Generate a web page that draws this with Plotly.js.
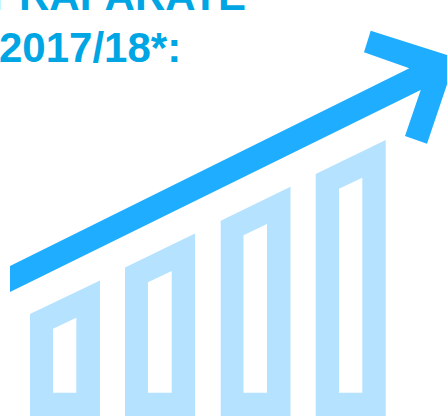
<!DOCTYPE html>
<html>
<head>
<meta charset="utf-8">
<script src="https://cdn.plot.ly/plotly-3.0.1.min.js"></script>
<style>html,body{margin:0;padding:0;background:#fff;overflow:hidden}</style>
</head>
<body>
<div id="chart" style="width:447px;height:416px"></div>
<script>
var titleLines = ["PRÄPARATE", "2017/18*:"];
// slanted bars: left / right top level, inner window top levels (axis runs downward)
var barLeft = [30, 125, 220.7, 315.7];
var barRight = [100, 195, 290.5, 385.7];
var barTopLeft = [314, 267.5, 220.7, 174];
var barTopRight = [280.5, 233.5, 186.7, 140];
var barBottom = [416, 416, 416, 416];
var holeLeft = [53, 148, 243.5, 339];
var holeRight = [76.3, 171.7, 267, 362.3];
var holeTopLeft = [328.7, 282.3, 235.3, 188.7];
var holeTopRight = [317.7, 271, 224, 177.7];
var holeBottom = [392.7, 392.7, 392.7, 392.7];
var arrowX = [10, 409.3, 364, 370.7, 456, 427, 405, 420.7, 10];
var arrowY = [266, 68.3, 52.3, 30.7, 58, 143.7, 136, 90, 292];

var barColor = "#b5e2ff", arrowColor = "#1fadff", textColor = "#00a5e3";
var traces = [];
barLeft.forEach(function (l, i) {
  traces.push({type: "scatter", mode: "lines", fill: "toself", fillcolor: barColor, line: {width: 0, color: barColor},
    x: [l, barRight[i], barRight[i], l, l],
    y: [barTopLeft[i], barTopRight[i], barBottom[i], barBottom[i], barTopLeft[i]], hoverinfo: "skip"});
  traces.push({type: "scatter", mode: "lines", fill: "toself", fillcolor: "#ffffff", line: {width: 0, color: "#ffffff"},
    x: [holeLeft[i], holeRight[i], holeRight[i], holeLeft[i], holeLeft[i]],
    y: [holeTopLeft[i], holeTopRight[i], holeBottom[i], holeBottom[i], holeTopLeft[i]], hoverinfo: "skip"});
});
traces.push({type: "scatter", mode: "lines", fill: "toself", fillcolor: arrowColor, line: {width: 0, color: arrowColor},
  x: arrowX, y: arrowY, hoverinfo: "skip"});

var axisBase = {visible: false, fixedrange: true, showgrid: false, zeroline: false};
var layout = {
  width: 447, height: 416, margin: {l: 0, r: 0, t: 0, b: 0},
  paper_bgcolor: "#ffffff", plot_bgcolor: "#ffffff", showlegend: false,
  xaxis: Object.assign({range: [0, 447]}, axisBase),
  yaxis: Object.assign({range: [416, 0]}, axisBase),
  annotations: [
    {text: titleLines[0], x: 0, y: 12, xshift: -11, yshift: -9.5},
    {text: titleLines[1], x: 0, y: 63.5, xshift: -3, yshift: -9.5}
  ].map(function (a) {
    a.text = "<b>" + a.text + "</b>";
    a.xref = "x"; a.yref = "y"; a.xanchor = "left"; a.yanchor = "bottom"; a.showarrow = false;
    a.font = {family: "Liberation Sans", size: 42, color: textColor};
    return a;
  })
};
Plotly.newPlot("chart", traces, layout, {staticPlot: true, displayModeBar: false});
</script>
</body>
</html>
